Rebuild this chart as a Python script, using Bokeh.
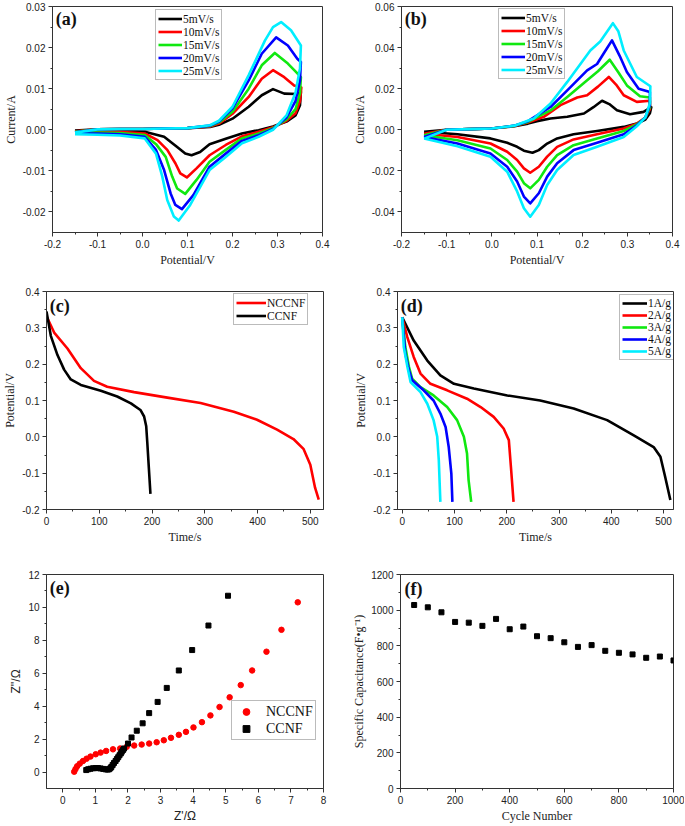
from bokeh.plotting import figure
from bokeh.models import FixedTicker, Legend, LegendItem, Label, Range1d
from bokeh.layouts import column, row
from bokeh.embed import file_html
from bokeh.resources import INLINE

# ---------------- data ----------------
cv_labels = ["5mV/s", "10mV/s", "15mV/s", "20mV/s", "25mV/s"]

# panel (a): CV loops (anodic scan then return scan)
a5_x = [-0.15, -0.1, -0.05, 0.0, 0.05, 0.1, 0.15, 0.17, 0.2, 0.236, 0.265, 0.29, 0.315, 0.344, 0.352,
        0.35, 0.34, 0.32, 0.29, 0.258, 0.221, 0.185, 0.149, 0.128, 0.109, 0.095, 0.077, 0.048, 0.005, -0.05, -0.1, -0.15]
a5_y = [-0.0002, 0.0001, 0.0002, 0.0002, 0.0003, 0.0004, 0.0007, 0.0012, 0.0027, 0.0056, 0.0084, 0.0099, 0.0088, 0.0087, 0.0092,
        0.006, 0.0035, 0.002, 0.0008, -0.0001, -0.0009, -0.0022, -0.0035, -0.0054, -0.0062, -0.0058, -0.0042, -0.0017, -0.0005, -0.0003, -0.0002, -0.0002]
a10_x = [-0.15, -0.1, -0.05, 0.0, 0.05, 0.1, 0.15, 0.17, 0.2, 0.236, 0.265, 0.29, 0.315, 0.337, 0.353,
         0.35, 0.34, 0.32, 0.29, 0.258, 0.221, 0.185, 0.149, 0.12, 0.0986, 0.084, 0.0733, 0.055, 0.0334, 0.005, -0.05, -0.1, -0.15]
a10_y = [-0.0004, 0.0001, 0.0002, 0.0002, 0.0003, 0.0004, 0.0008, 0.0015, 0.0039, 0.008, 0.0124, 0.0145, 0.0128, 0.0108, 0.0103,
         0.007, 0.004, 0.0022, 0.0006, -0.0005, -0.0016, -0.0037, -0.0062, -0.0094, -0.0116, -0.0106, -0.0082, -0.0049, -0.0025, -0.0009, -0.0005, -0.0005, -0.0005]
a15_x = [-0.15, -0.1, -0.05, 0.0, 0.05, 0.1, 0.15, 0.17, 0.2, 0.236, 0.265, 0.294, 0.323, 0.341, 0.352,
         0.35, 0.34, 0.32, 0.29, 0.258, 0.221, 0.185, 0.149, 0.12, 0.095, 0.077, 0.066, 0.0516, 0.03, 0.005, -0.05, -0.1, -0.15]
a15_y = [-0.0005, 0.0001, 0.0002, 0.0002, 0.0003, 0.0004, 0.0009, 0.0018, 0.0044, 0.01, 0.0157, 0.0187, 0.0161, 0.0141, 0.0128,
         0.009, 0.005, 0.0025, 0.0004, -0.0009, -0.0021, -0.0049, -0.0078, -0.0122, -0.0156, -0.0143, -0.0114, -0.0066, -0.0035, -0.0013, -0.0008, -0.0007, -0.0007]
a20_x = [-0.15, -0.1, -0.05, 0.0, 0.05, 0.1, 0.15, 0.17, 0.2, 0.236, 0.265, 0.297, 0.323, 0.344, 0.352,
         0.35, 0.34, 0.32, 0.29, 0.258, 0.221, 0.185, 0.149, 0.113, 0.0877, 0.073, 0.0625, 0.048, 0.03, 0.005, -0.05, -0.1, -0.15]
a20_y = [-0.0006, 0.0001, 0.0002, 0.0002, 0.0003, 0.0004, 0.001, 0.002, 0.0052, 0.012, 0.0185, 0.0225, 0.0205, 0.0173, 0.0165,
         0.012, 0.007, 0.003, 0.0002, -0.0013, -0.0027, -0.0058, -0.009, -0.0159, -0.0193, -0.0183, -0.0155, -0.0098, -0.0049, -0.0017, -0.0011, -0.0009, -0.0009]
a25_x = [-0.15, -0.1, -0.05, 0.0, 0.05, 0.1, 0.15, 0.17, 0.2, 0.236, 0.272, 0.29, 0.308, 0.33, 0.352,
         0.35, 0.34, 0.32, 0.29, 0.258, 0.221, 0.185, 0.149, 0.106, 0.0805, 0.0697, 0.055, 0.044, 0.03, 0.005, -0.05, -0.1, -0.15]
a25_y = [-0.0007, 0.0001, 0.0002, 0.0002, 0.0003, 0.0004, 0.0011, 0.0022, 0.0056, 0.0133, 0.0217, 0.025, 0.0262, 0.0242, 0.0205,
         0.015, 0.009, 0.0035, 0.0, -0.0017, -0.0033, -0.0066, -0.0098, -0.0183, -0.0221, -0.0211, -0.0171, -0.0114, -0.0058, -0.0021, -0.0014, -0.0012, -0.0011]

# panel (b): CV loops
b5_x = [-0.15, -0.1, -0.05, 0.0, 0.05, 0.08, 0.1, 0.13, 0.167, 0.204, 0.225, 0.244, 0.26, 0.277, 0.306, 0.336, 0.353,
        0.35, 0.34, 0.321, 0.292, 0.233, 0.181, 0.1446, 0.1225, 0.104, 0.09, 0.071, 0.056, 0.034, -0.003, -0.076, -0.15]
b5_y = [-0.001, 0.0, 0.0003, 0.0006, 0.0017, 0.003, 0.0042, 0.0055, 0.0063, 0.0079, 0.011, 0.0141, 0.0125, 0.0095, 0.0076, 0.0087, 0.011,
        0.008, 0.005, 0.003, 0.0014, -0.0006, -0.0022, -0.0042, -0.0067, -0.0099, -0.0112, -0.0102, -0.0083, -0.0063, -0.0042, -0.0022, -0.001]
b10_x = [-0.15, -0.1, -0.05, 0.0, 0.05, 0.08, 0.115, 0.152, 0.189, 0.211, 0.235, 0.259, 0.275, 0.292, 0.321, 0.35,
         0.35, 0.34, 0.321, 0.292, 0.233, 0.181, 0.1446, 0.1225, 0.104, 0.085, 0.071, 0.056, 0.034, -0.003, -0.076, -0.15]
b10_y = [-0.0019, 0.0, 0.0003, 0.0006, 0.0018, 0.0035, 0.0063, 0.012, 0.0157, 0.0168, 0.021, 0.0257, 0.022, 0.0168, 0.0136, 0.0141,
         0.01, 0.006, 0.003, 0.0006, -0.0022, -0.0047, -0.0083, -0.0131, -0.018, -0.0209, -0.0188, -0.0147, -0.0107, -0.0067, -0.0035, -0.0019]
b15_x = [-0.15, -0.1, -0.05, 0.0, 0.05, 0.08, 0.13, 0.167, 0.211, 0.235, 0.261, 0.28, 0.299, 0.328, 0.35,
         0.35, 0.34, 0.321, 0.292, 0.233, 0.181, 0.1446, 0.1225, 0.104, 0.085, 0.071, 0.056, 0.034, -0.003, -0.076, -0.15]
b15_y = [-0.0027, 0.0, 0.0003, 0.0006, 0.0019, 0.0038, 0.0094, 0.016, 0.0241, 0.0285, 0.0341, 0.028, 0.0216, 0.0163, 0.0157,
         0.011, 0.006, 0.0026, -0.0006, -0.0042, -0.0075, -0.0123, -0.018, -0.0244, -0.0285, -0.026, -0.0204, -0.0147, -0.0091, -0.0051, -0.0027]
b20_x = [-0.15, -0.1, -0.05, 0.0, 0.05, 0.08, 0.13, 0.167, 0.211, 0.233, 0.25, 0.266, 0.283, 0.299, 0.325, 0.35,
         0.35, 0.34, 0.321, 0.292, 0.233, 0.181, 0.1446, 0.1225, 0.104, 0.085, 0.071, 0.056, 0.034, -0.003, -0.076, -0.15]
b20_y = [-0.0035, 0.0, 0.0003, 0.0006, 0.002, 0.0042, 0.0111, 0.0192, 0.0289, 0.032, 0.038, 0.0435, 0.036, 0.0281, 0.02, 0.0184,
         0.012, 0.006, 0.0022, -0.0022, -0.0063, -0.0099, -0.0163, -0.0228, -0.0309, -0.0358, -0.0325, -0.0252, -0.018, -0.0115, -0.0067, -0.0035]
b25_x = [-0.15, -0.1, -0.05, 0.0, 0.05, 0.093, 0.13, 0.167, 0.218, 0.24, 0.268, 0.28, 0.292, 0.321, 0.351,
         0.35, 0.34, 0.321, 0.292, 0.233, 0.181, 0.1446, 0.1225, 0.104, 0.085, 0.071, 0.056, 0.034, -0.003, -0.076, -0.15]
b25_y = [-0.0043, 0.0, 0.0003, 0.0006, 0.002, 0.0055, 0.0128, 0.0233, 0.0386, 0.043, 0.0519, 0.048, 0.0386, 0.0257, 0.0212,
         0.013, 0.006, 0.0017, -0.0035, -0.0083, -0.0123, -0.0196, -0.0269, -0.0366, -0.0423, -0.0382, -0.03, -0.0204, -0.0131, -0.008, -0.0043]

# panel (c): galvanostatic discharge
c_labels = ["NCCNF", "CCNF"]
c_ncc_t = [0, 14.5, 39.7, 65, 90, 115, 166, 229, 292, 355, 399, 437, 468, 487, 500, 509, 516]
c_ncc_v = [0.332, 0.287, 0.243, 0.189, 0.154, 0.138, 0.123, 0.108, 0.093, 0.069, 0.047, 0.02, -0.006, -0.033, -0.077, -0.14, -0.173]
c_cc_t = [0, 8.2, 20.8, 33.4, 46, 65, 103, 134, 160, 178, 185, 189, 191, 194, 197]
c_cc_v = [0.345, 0.278, 0.225, 0.185, 0.158, 0.143, 0.127, 0.111, 0.092, 0.074, 0.056, 0.029, -0.015, -0.086, -0.157]

# panel (d): discharge at several current densities
d_labels = ["1A/g", "2A/g", "3A/g", "4A/g", "5A/g"]
d1_t = [0, 22, 48, 73, 99, 137, 201, 264, 328, 392, 443, 481, 494, 503, 513]
d1_v = [0.329, 0.265, 0.21, 0.169, 0.146, 0.133, 0.114, 0.1, 0.078, 0.046, 0.004, -0.028, -0.055, -0.11, -0.174]
d2_t = [0, 9.6, 22, 35, 54, 86, 124, 150, 175, 194, 204, 208, 213]
d2_v = [0.329, 0.275, 0.22, 0.174, 0.146, 0.128, 0.105, 0.082, 0.055, 0.023, -0.009, -0.083, -0.179]
d3_t = [0, 6, 13, 19, 35, 60, 86, 105, 118, 124, 127, 132]
d3_v = [0.329, 0.247, 0.192, 0.16, 0.137, 0.114, 0.082, 0.046, 0.0, -0.046, -0.119, -0.179]
d4_t = [0, 6, 13, 19, 41, 60, 73, 83, 89, 94, 96]
d4_v = [0.329, 0.229, 0.183, 0.156, 0.128, 0.1, 0.064, 0.027, -0.028, -0.101, -0.179]
d5_t = [0, 3, 10, 16, 35, 48, 60, 67, 70, 73]
d5_v = [0.329, 0.247, 0.192, 0.151, 0.123, 0.091, 0.046, 0.0, -0.064, -0.179]

# panel (e): Nyquist plot
e_labels = ["NCCNF", "CCNF"]
e_ncc_x = [0.35, 0.39, 0.44, 0.52, 0.62, 0.73, 0.85, 1.01, 1.16, 1.33, 1.54, 1.76, 1.96, 2.19, 2.42, 2.65,
           2.88, 3.10, 3.32, 3.56, 3.78, 4.01, 4.27, 4.53, 4.81, 5.12, 5.46, 5.81, 6.25, 6.71, 7.21]
e_ncc_y = [0.02, 0.18, 0.35, 0.51, 0.67, 0.81, 0.94, 1.08, 1.18, 1.28, 1.38, 1.43, 1.53, 1.61, 1.67, 1.73,
           1.81, 1.93, 2.08, 2.26, 2.44, 2.71, 3.03, 3.44, 3.95, 4.54, 5.28, 6.17, 7.31, 8.64, 10.31]
e_cc_x = [0.72, 0.78, 0.85, 0.93, 1.01, 1.08, 1.16, 1.24, 1.32, 1.38, 1.42, 1.46, 1.49, 1.53, 1.57, 1.62,
          1.66, 1.70, 1.74, 1.78, 1.81, 1.85, 1.88, 2.00, 2.11, 2.27, 2.45, 2.65, 2.91, 3.19, 3.56, 3.97, 4.47, 5.07]
e_cc_y = [0.12, 0.17, 0.20, 0.23, 0.24, 0.24, 0.22, 0.19, 0.16, 0.15, 0.17, 0.23, 0.31, 0.43, 0.55, 0.67,
          0.79, 0.90, 1.02, 1.13, 1.24, 1.34, 1.43, 1.73, 2.10, 2.51, 2.96, 3.58, 4.26, 5.11, 6.17, 7.41, 8.90, 10.71]

# panel (f): cycling stability
f_cycle = [50, 100, 150, 200, 250, 300, 350, 400, 450, 500, 550, 600, 650, 700, 750, 800, 850, 900, 950, 1000]
f_cap = [1029, 1016, 988, 934, 930, 912, 951, 893, 908, 854, 843, 820, 794, 804, 772, 761, 752, 733, 740, 718]

# tick values and labels
a_xt = [-0.2, -0.1, 0.0, 0.1, 0.2, 0.3, 0.4]
a_xtl = ["-0.2", "-0.1", "0.0", "0.1", "0.2", "0.3", "0.4"]
a_yt = [-0.02, -0.01, 0.0, 0.01, 0.02, 0.03]
a_ytl = ["-0.02", "-0.01", "0.00", "0.01", "0.02", "0.03"]
b_yt = [-0.04, -0.02, 0.0, 0.02, 0.04, 0.06]
b_ytl = ["-0.04", "-0.02", "0.00", "0.02", "0.04", "0.06"]
t_xt = [0, 100, 200, 300, 400, 500]
t_xtl = ["0", "100", "200", "300", "400", "500"]
v_yt = [-0.2, -0.1, 0.0, 0.1, 0.2, 0.3, 0.4]
v_ytl = ["-0.2", "-0.1", "0.0", "0.1", "0.2", "0.3", "0.4"]
e_xt = [0, 1, 2, 3, 4, 5, 6, 7, 8]
e_xtl = ["0", "1", "2", "3", "4", "5", "6", "7", "8"]
e_yt = [0, 2, 4, 6, 8, 10, 12]
e_ytl = ["0", "2", "4", "6", "8", "10", "12"]
f_xt = [0, 200, 400, 600, 800, 1000]
f_xtl = ["0", "200", "400", "600", "800", "1000"]
f_yt = [0, 200, 400, 600, 800, 1000, 1200]
f_ytl = ["0", "200", "400", "600", "800", "1000", "1200"]

COLORS = ["#000000", "#ff0000", "#10e810", "#0000ff", "#00eeff"]
AXC = "#333333"
SERIF = "Liberation Serif"
SANS = "Liberation Sans"


def minor(ticks):
    return [(a + b) / 2 for a, b in zip(ticks[:-1], ticks[1:])]


def make_fig(w, h, xr, yr, bl, br, bt, bb, xt, xtl, yt, ytl, xlab, ylab, lab_font=SERIF):
    p = figure(width=w, height=h, x_range=Range1d(*xr), y_range=Range1d(*yr),
               output_backend="svg", toolbar_location=None,
               min_border_left=bl, min_border_right=br, min_border_top=bt, min_border_bottom=bb)
    p.xgrid.visible = False
    p.ygrid.visible = False
    p.outline_line_color = AXC
    p.outline_line_width = 1
    p.background_fill_color = "white"
    p.border_fill_color = "white"
    for ax, t, tl, lab in ((p.xaxis[0], xt, xtl, xlab), (p.yaxis[0], yt, ytl, ylab)):
        ax.ticker = FixedTicker(ticks=t, minor_ticks=minor(t))
        ax.major_label_overrides = dict(zip(t, tl))
        ax.axis_label = lab
        ax.axis_label_text_font = lab_font
        ax.axis_label_text_font_size = "12px"
        ax.axis_label_text_font_style = "normal"
        ax.axis_label_text_color = "#222222"
        ax.axis_label_standoff = 2
        ax.major_label_text_font = SANS
        ax.major_label_text_font_size = "10px"
        ax.major_label_text_color = "#222222"
        ax.major_label_standoff = 3
        ax.axis_line_color = AXC
        ax.major_tick_line_color = AXC
        ax.minor_tick_line_color = AXC
        ax.major_tick_out = 4
        ax.major_tick_in = 0
        ax.minor_tick_out = 2
        ax.minor_tick_in = 0
    return p


def panel_label(p, txt, xr, yr, fx=0.012, fy=0.012):
    p.add_layout(Label(x=xr[0] + fx * (xr[1] - xr[0]), y=yr[1] - fy * (yr[1] - yr[0]), text=txt,
                       text_font=SERIF, text_font_style="bold", text_font_size="18px",
                       text_baseline="top", text_align="left", text_color="#111111"))


def add_legend(p, items, loc, glyph_w=24, font="11.5px", row_h=13, pad=2, standoff=1):
    leg = Legend(items=[LegendItem(label=l, renderers=[r]) for l, r in items], location=loc,
                 orientation="vertical", glyph_width=glyph_w, glyph_height=row_h, label_height=row_h,
                 label_width=10, spacing=0, padding=pad, margin=0, label_standoff=standoff,
                 label_text_font=SERIF, label_text_font_size=font, label_text_color="#111111",
                 border_line_color="#777777", border_line_width=1,
                 background_fill_color="white", background_fill_alpha=1.0)
    p.add_layout(leg)


LW = 2.6

# ---- (a)
a_xr, a_yr = (-0.2, 0.4), (-0.025, 0.03)
pa = make_fig(342, 280, a_xr, a_yr, 46, 20, 6, 48, a_xt, a_xtl, a_yt, a_ytl, "Potential/V", "Current/A")
ra = []
for xs, ys, c in zip([a5_x, a10_x, a15_x, a20_x, a25_x], [a5_y, a10_y, a15_y, a20_y, a25_y], COLORS):
    ra.append(pa.line(xs, ys, line_color=c, line_width=LW, line_join="round"))
add_legend(pa, list(zip(cv_labels, ra)), (103, 152))
panel_label(pa, "(a)", a_xr, a_yr)

# ---- (b)
b_xr, b_yr = (-0.2, 0.4), (-0.05, 0.06)
pb = make_fig(342, 280, b_xr, b_yr, 59, 12, 6, 48, a_xt, a_xtl, b_yt, b_ytl, "Potential/V", "Current/A")
rb = []
for xs, ys, c in zip([b5_x, b10_x, b15_x, b20_x, b25_x], [b5_y, b10_y, b15_y, b20_y, b25_y], COLORS):
    rb.append(pb.line(xs, ys, line_color=c, line_width=LW, line_join="round"))
add_legend(pb, list(zip(cv_labels, rb)), (97, 153))
panel_label(pb, "(b)", b_xr, b_yr)

# ---- (c)
c_xr, c_yr = (0, 525), (-0.2, 0.4)
pc = make_fig(342, 270, c_xr, c_yr, 46, 19, 11, 34, t_xt, t_xtl, v_yt, v_ytl, "Time/s", "Potential/V")
rc1 = pc.line(c_ncc_t, c_ncc_v, line_color=COLORS[1], line_width=LW, line_join="round")
rc2 = pc.line(c_cc_t, c_cc_v, line_color=COLORS[0], line_width=LW, line_join="round")
add_legend(pc, [(c_labels[0], rc1), (c_labels[1], rc2)], (187, 184), glyph_w=30)
panel_label(pc, "(c)", c_xr, c_yr, fy=0.02)

# ---- (d)
d_xr, d_yr = (-9, 519), (-0.2, 0.4)
pd_ = make_fig(342, 270, d_xr, d_yr, 55, 11, 11, 41, t_xt, t_xtl, v_yt, v_ytl, "Time/s", "Potential/V")
rd = []
for xs, ys, c in zip([d1_t, d2_t, d3_t, d4_t, d5_t], [d1_v, d2_v, d3_v, d4_v, d5_v], COLORS):
    rd.append(pd_.line(xs, ys, line_color=c, line_width=LW, line_join="round"))
add_legend(pd_, list(zip(d_labels, rd)), (222, 149), glyph_w=25, row_h=12)
panel_label(pd_, "(d)", d_xr, d_yr, fx=0.012, fy=0.02)

# ---- (e)
e_xr, e_yr = (-0.5, 8), (-1, 12)
pe = make_fig(342, 275, e_xr, e_yr, 46, 19, 19, 36, e_xt, e_xtl, e_yt, e_ytl, "Z'/Ω", "Z''/Ω", lab_font=SANS)
re1 = pe.scatter(e_ncc_x, e_ncc_y, marker="circle", size=5.5, fill_color=COLORS[1], line_color=COLORS[1])
re2 = pe.scatter(e_cc_x, e_cc_y, marker="square", size=5, fill_color=COLORS[0], line_color=COLORS[0])
add_legend(pe, [(e_labels[0], re1), (e_labels[1], re2)], (185, 48), glyph_w=24, font="14px", row_h=17, pad=2, standoff=8)
panel_label(pe, "(e)", e_xr, e_yr, fy=0.015)

# ---- (f)
f_xr, f_yr = (0, 1000), (0, 1200)
pf = make_fig(342, 275, f_xr, f_yr, 58, 11, 24, 36, f_xt, f_xtl, f_yt, f_ytl, "Cycle Number",
              "Specific Capacitance(F•g⁻¹)")
pf.scatter(f_cycle, f_cap, marker="square", size=5, fill_color="#000000", line_color="#000000")
panel_label(pf, "(f)", f_xr, f_yr, fx=0.015, fy=0.02)

layout = column(row(pa, pb), row(pc, pd_), row(pe, pf))
open("out.html", "w").write(file_html(layout, INLINE))
